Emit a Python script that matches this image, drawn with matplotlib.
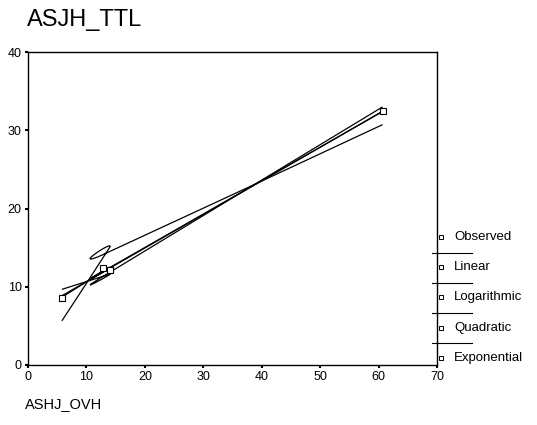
import numpy as np
import matplotlib
matplotlib.use("Agg")
import matplotlib.pyplot as plt
from matplotlib.path import Path
from matplotlib.patches import PathPatch
from matplotlib.lines import Line2D

plt.rcParams['font.family'] = ['Liberation Sans', 'DejaVu Sans']

# observed cases, in file order
ovh = np.array([5.8, 14.0, 12.8, 60.7])
ttl = np.array([8.6, 12.1, 12.4, 32.4])

xticks = [0, 10, 20, 30, 40, 50, 60, 70]
yticks = [0, 10, 20, 30, 40]
legend_labels = ['Observed', 'Linear', 'Logarithmic', 'Quadratic', 'Exponential']


def fitted(x, y):
    lin = np.polyval(np.polyfit(x, y, 1), x)
    b, a = np.polyfit(np.log(x), y, 1)
    log = a + b * np.log(x)
    quad = np.polyval(np.polyfit(x, y, 2), x)
    k, lna = np.polyfit(x, np.log(y), 1)
    expo = np.exp(lna) * np.exp(k * x)
    return [lin, log, quad, expo]


def spline_path(x, y, t=8.0):
    # cardinal spline through the points in case order, as cubic beziers
    pts = np.column_stack([x, y])
    p = np.vstack([pts[0], pts, pts[-1]])
    verts = [pts[0]]
    codes = [Path.MOVETO]
    for i in range(1, len(p) - 2):
        c1 = p[i] + (p[i + 1] - p[i - 1]) / t
        c2 = p[i + 1] - (p[i + 2] - p[i]) / t
        verts += [c1, c2, p[i + 1]]
        codes += [Path.CURVE4] * 3
    return Path(verts, codes)


fig = plt.figure(figsize=(5.37, 4.25), dpi=100)
ax = fig.add_axes([0.0521, 0.1412, 0.7616, 0.7364])

for fy in fitted(ovh, ttl):
    ax.add_patch(PathPatch(spline_path(ovh, fy), fill=False, lw=0.9, ec='black'))

ax.plot(ovh, ttl, ls='none', marker='s', ms=4, mfc='white', mec='black', mew=0.8)

ax.set_xlim(0, 70)
ax.set_ylim(0, 40)
ax.set_xticks(xticks)
ax.set_yticks(yticks)
ax.tick_params(direction='out', length=2.5, width=1.5, labelsize=9, pad=2)
for s in ax.spines.values():
    s.set_linewidth(1.0)

fig.text(0.050, 0.952, 'ASJH_TTL', fontsize=17, va='center', ha='left')
fig.text(0.047, 0.049, 'ASHJ_OVH', fontsize=10.5, va='center', ha='left')

# legend drawn beside the plot
W, H = 537, 425
mark_y = [237, 267, 297, 328, 358]
line_y = [253, 283, 313, 343]
for yy, lab in zip(mark_y, legend_labels):
    fig.add_artist(Line2D([441 / W], [1 - yy / H], marker='s', ms=3, mfc='white',
                          mec='black', mew=0.7, ls='none'))
    fig.text(454 / W, 1 - yy / H, lab, fontsize=9.5, va='center', ha='left')
for yy in line_y:
    fig.add_artist(Line2D([432 / W, 472 / W], [1 - yy / H, 1 - yy / H], lw=0.8, color='black'))

fig.savefig('out.png', dpi=100)
